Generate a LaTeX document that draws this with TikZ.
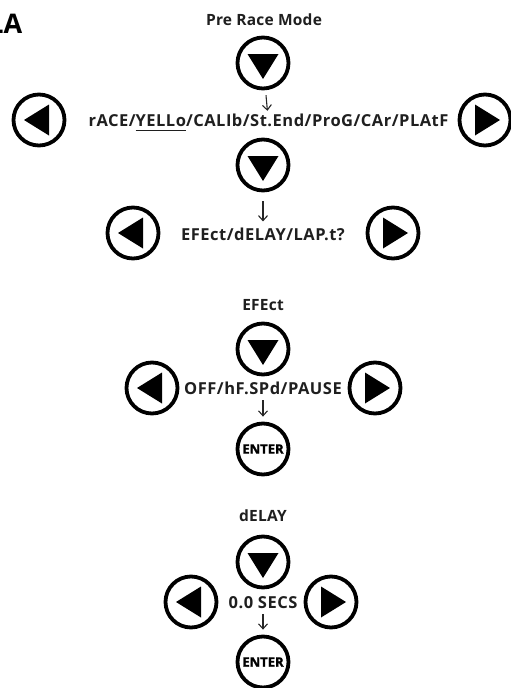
\documentclass[tikz,border=0pt]{standalone}
\usepackage{fontspec}
\setmainfont{Open Sans}
\newfontfamily\enterfont{Open Sans}[BoldFeatures={FakeBold=1.6}]
\usetikzlibrary{arrows.meta}
\newcommand\ulbar[1]{\setbox0\hbox{#1}\rlap{\rule[-4.5pt]{\wd0}{1.3pt}}\box0}
\tikzset{
  btn/.style={circle, draw, line width=3.8pt, minimum size=51pt, inner sep=0pt},
  lbl/.style={font=\fontsize{16.5}{17}\selectfont\bfseries\addfontfeatures{LetterSpace=3}, inner sep=1pt, text=black!88},
  ttl/.style={font=\fontsize{15.5}{16}\selectfont\bfseries\addfontfeatures{LetterSpace=1.5}, inner sep=1pt, text=black!88},
  entertxt/.style={font=\enterfont\fontsize{13}{13}\selectfont\bfseries},
  darr/.style={-{Straight Barb[length=5pt,width=9pt]}, line width=1.1pt, black!85},
}
\newcommand\downtri[1]{\fill (#1) ++(-15.5,-9) -- ++(31,0) -- ++(-15.5,25) -- cycle;}
\newcommand\lefttri[1]{\fill (#1) ++(-15,0) -- ++(25,-15.5) -- ++(0,31) -- cycle;}
\newcommand\righttri[1]{\fill (#1) ++(15,0) -- ++(-25,-15.5) -- ++(0,31) -- cycle;}
\begin{document}
\begin{tikzpicture}[x=1pt,y=-1pt]
\useasboundingbox (0,0) rectangle (511,688);
\node[font=\fontsize{27}{28}\selectfont\bfseries, anchor=base east, inner sep=0pt] (sec) at (22.5,33) {LA};
% Section 1
\node[ttl] (title1) at (264,20) {Pre Race Mode};
\node[btn] (d1) at (263,63) {};
\downtri{d1}
\node[lbl] (t1) at (268.5,122.5) {rACE/\ulbar{YELLo}/CALIb/St.End/ProG/CAr/PLAtF};
\node[btn] (l1) at (39,120) {};
\lefttri{l1}
\node[btn] (r1) at (485,120) {};
\righttri{r1}
\draw[darr, shorten <=5pt, shorten >=2pt] (d1) -- (t1);
\node[btn] (d2) at (263,165) {};
\downtri{d2}
\node[lbl] (t2) at (263,234) {EFEct/dELAY/LAP.t?};
\node[btn] (l2) at (133,233) {};
\lefttri{l2}
\node[btn] (r2) at (393,233) {};
\righttri{r2}
\draw[darr, shorten <=9pt, shorten >=5pt] (d2) -- (t2);
% Section 2
\node[ttl] (title2) at (263,305) {EFEct};
\node[btn] (d3) at (263,349) {};
\downtri{d3}
\node[lbl] (t3) at (263,388.5) {OFF/hF.SPd/PAUSE};
\node[btn] (l3) at (152,388) {};
\lefttri{l3}
\node[btn] (r3) at (375,388) {};
\righttri{r3}
\node[btn] (e3) at (263,449) {};
\node[entertxt] at (e3) {ENTER};
\draw[darr, shorten <=4pt, shorten >=5pt] (t3) -- (e3);
% Section 3
\node[ttl] (title3) at (263,516) {dELAY};
\node[btn] (d4) at (263,562) {};
\downtri{d4}
\node[lbl] (t4) at (263,602.5) {0.0 SECS};
\node[btn] (l4) at (191,602) {};
\lefttri{l4}
\node[btn] (r4) at (331,602) {};
\righttri{r4}
\node[btn] (e4) at (263,662) {};
\node[entertxt] at (e4) {ENTER};
\draw[darr, shorten <=4pt, shorten >=5pt] (t4) -- (e4);
\end{tikzpicture}
\end{document}
